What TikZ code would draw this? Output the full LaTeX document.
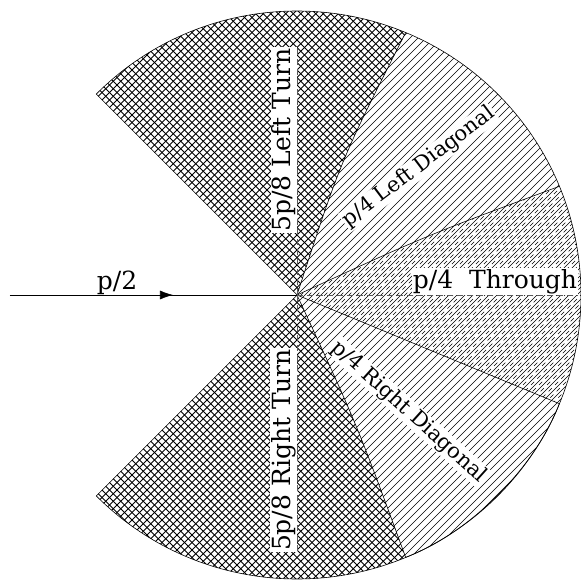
\documentclass[tikz,border=0pt]{standalone}
\usepackage{fontspec}
\setmainfont{DejaVu Serif}
\usetikzlibrary{arrows.meta}
\begin{document}
\begin{tikzpicture}[x=1pt,y=1pt,
  hatch/.style={line width=0.7pt},
  xhatch/.style={line width=0.75pt},
  dhatch/.style={line width=0.7pt, dash pattern=on 4.5pt off 4.5pt},
  bound/.style={line width=0.6pt},
  axisline/.style={line width=0.7pt, black!65, dash pattern=on 6pt off 4pt},
  lab/.style={fill=white, inner sep=1pt, font=\fontsize{25}{30}\selectfont},
  dlab/.style={fill=white, inner sep=1pt, font=\fontsize{21}{25}\selectfont}]
\useasboundingbox (-297,-287) rectangle (284,295);
\def\R{284}
\coordinate (O) at (0,0);
\coordinate (A135) at (135:\R);
\coordinate (A67) at (67.5:\R);
\coordinate (A22) at (22.5:\R);
\coordinate (B22) at (-22.5:\R);
\coordinate (B67) at (-67.5:\R);
\coordinate (B135) at (-135:\R);
\coordinate (cu) at (44.1,135.4);
\coordinate (cl) at (59.8,-128.9);
\coordinate (c22) at (129.1,59.4);
% top crosshatch
\begin{scope}
\clip (O) -- (A135) arc[start angle=135, end angle=67.5, radius=\R] .. controls (cu) .. (O) -- cycle;
\foreach \c in {-600,-592.5,...,600} {
  \draw[xhatch] (\c-300,-300) -- (\c+300,300);
  \draw[xhatch] (\c+300,-300) -- (\c-300,300);
}
\end{scope}
% bottom crosshatch
\begin{scope}
\clip (O) .. controls (cl) .. (B67) arc[start angle=-67.5, end angle=-135, radius=\R] -- cycle;
\foreach \c in {-600,-592.5,...,600} {
  \draw[xhatch] (\c-300,-300) -- (\c+300,300);
  \draw[xhatch] (\c+300,-300) -- (\c-300,300);
}
\end{scope}
% diagonal lines
\begin{scope}
\clip (O) .. controls (cu) .. (A67) arc[start angle=67.5, end angle=-67.5, radius=\R] .. controls (cl) .. (O) -- cycle;
\foreach \c in {-600,-592,...,600} \draw[hatch] (\c-300,-300) -- (\c+300,300);
\end{scope}
% through dashed lines
\begin{scope}
\clip (O) .. controls (c22) .. (A22) arc[start angle=22.5, end angle=-22.5, radius=\R] -- cycle;
\foreach \c in {-596,-588,...,604} \draw[dhatch] (\c-300,-300) -- (\c+300,300);
\end{scope}
% boundaries
\draw[bound] (O) .. controls (cu) .. (A67);
\draw[bound] (O) .. controls (cl) .. (B67);
\draw[bound] (O) .. controls (c22) .. (A22);
\draw[bound] (O) -- (B22);
\draw[bound] (A135) arc[start angle=135, end angle=-135, radius=\R];
\draw[bound] (B22) .. controls (238.4,-172.5) and (172.5,-238.4) .. (B67);
% labels
\node[lab, rotate=90, anchor=south] (lt) at (0,155) {5p/8 Left Turn};
\node[lab, rotate=90, anchor=south] (rt) at (0,-155) {5p/8 Right Turn};
\node[lab, anchor=south] (th) at (198,0) {p/4\ \ Through};
\node[dlab, rotate=37] (ld) at (122,128) {p/4 Left Diagonal};
\node[dlab, rotate=-42] (rd) at (112,-117) {p/4 Right Diagonal};
\node[lab, anchor=base] (p2) at (-180,6) {p/2};
% dashed axes
\draw[axisline] (O) -- (lt.south east);
\draw[axisline] (O) -- (rt.south west);
\draw[axisline] (O) -- (th.south east);
% incoming arrow
\coordinate (start) at (-287,0);
\coordinate (tip) at (-124,0);
\draw[bound] (start) -- (O);
\draw[bound, -{Latex[length=13pt,width=9pt]}] (start) -- (tip);
\end{tikzpicture}
\end{document}
